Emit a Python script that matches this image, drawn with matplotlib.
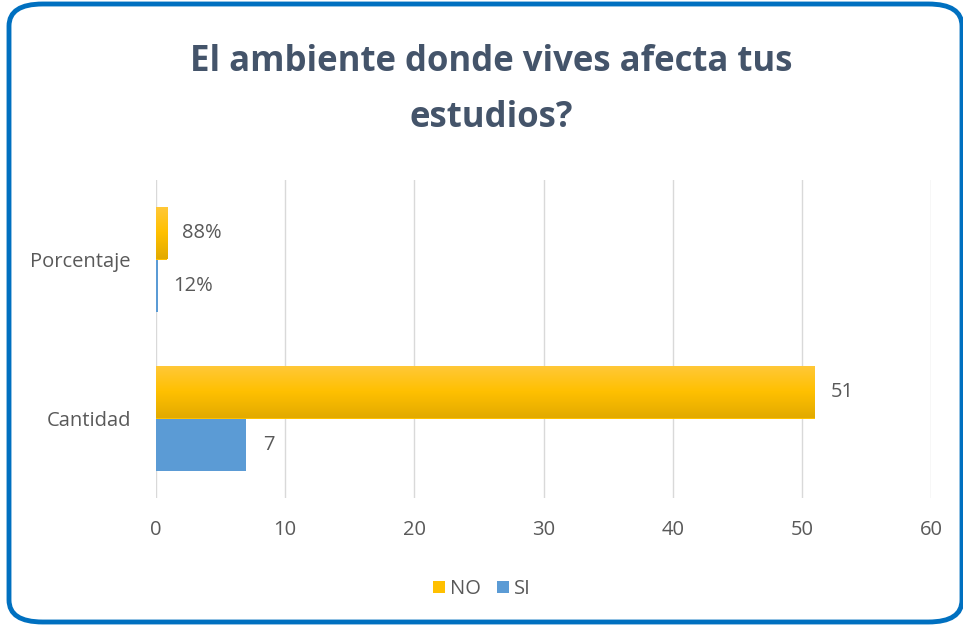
import matplotlib
matplotlib.use("Agg")
import matplotlib.pyplot as plt
import numpy as np
from matplotlib.patches import FancyBboxPatch, Patch
from matplotlib.colors import LinearSegmentedColormap

categories = ["Cantidad", "Porcentaje"]
no_values = [51, 0.88]
si_values = [7, 0.12]
no_labels = ["51", "88%"]
si_labels = ["7", "12%"]
series_names = ["NO", "SI"]
xticks = [0, 10, 20, 30, 40, 50, 60]

FONT = ["Open Sans", "DejaVu Sans"]
plt.rcParams['font.family'] = FONT

fig = plt.figure(figsize=(9.63, 6.29), dpi=100)
ax = fig.add_axes([156/963, 1-498/629, (931-156)/963, (498-180)/629])

h = 0.33
y = np.arange(len(categories))
gold_cmap = LinearSegmentedColormap.from_list("g", ["#FFC83A", "#FFC000", "#E2AA00"])
bars_no = ax.barh(y + h/2, no_values, height=h, color="#FFC000", zorder=2)
bars_si = ax.barh(y - h/2, si_values, height=h, color="#5B9BD5", zorder=2)

grad = np.linspace(0, 1, 256).reshape(-1, 1)
for b in bars_no:
    x0, y0 = b.get_x(), b.get_y()
    w, hh = b.get_width(), b.get_height()
    im = ax.imshow(grad, cmap=gold_cmap, aspect='auto', extent=[x0, x0+w, y0, y0+hh],
                   origin='upper', zorder=3)
    im.set_clip_path(b)

txtc = "#595959"
fs = 14.5
for i in range(len(categories)):
    ax.text(no_values[i] + 1.2 if no_values[i] > 5 else 2.0, y[i] + h/2, no_labels[i],
            va='center', ha='left', fontsize=fs, color=txtc)
    ax.text(si_values[i] + 1.3 if si_values[i] > 5 else 1.3, y[i] - h/2, si_labels[i],
            va='center', ha='left', fontsize=fs, color=txtc)

ax.set_xlim(0, 60)
ax.set_ylim(-0.5, 1.5)
ax.set_xticks(xticks)
ax.set_xticklabels([str(t) for t in xticks], fontsize=fs, color=txtc)
ax.set_yticks(y)
ax.set_yticklabels(categories, fontsize=fs, color=txtc)
ax.tick_params(axis='x', length=0, pad=16)
ax.tick_params(axis='y', length=0, pad=18)
ax.grid(axis='x', color="#D9D9D9", linewidth=1, zorder=0)
for s in ax.spines.values():
    s.set_visible(False)

fig.text(491/963, 1-62/629, "El ambiente donde vives afecta tus", ha='center', va='center',
         fontsize=25, fontweight='bold', color="#44546A")
fig.text(491/963, 1-118/629, "estudios?", ha='center', va='center',
         fontsize=25, fontweight='bold', color="#44546A")

handles = [Patch(facecolor="#FFC000"), Patch(facecolor="#5B9BD5")]
fig.legend(handles, series_names, loc='center', bbox_to_anchor=(0.5, 1-589/629), ncol=2,
           frameon=False, fontsize=fs, handlelength=0.6, handleheight=0.6,
           handletextpad=0.25, columnspacing=0.8, labelcolor=txtc)

border = FancyBboxPatch((9/963, 7/629), (962-9)/963, (625-7)/629,
                        boxstyle="round,pad=0,rounding_size=0.035",
                        transform=fig.transFigure, facecolor='none',
                        edgecolor="#0070C0", linewidth=3.5, clip_on=False)
fig.patches.append(border)

fig.savefig("out.png", dpi=100)
